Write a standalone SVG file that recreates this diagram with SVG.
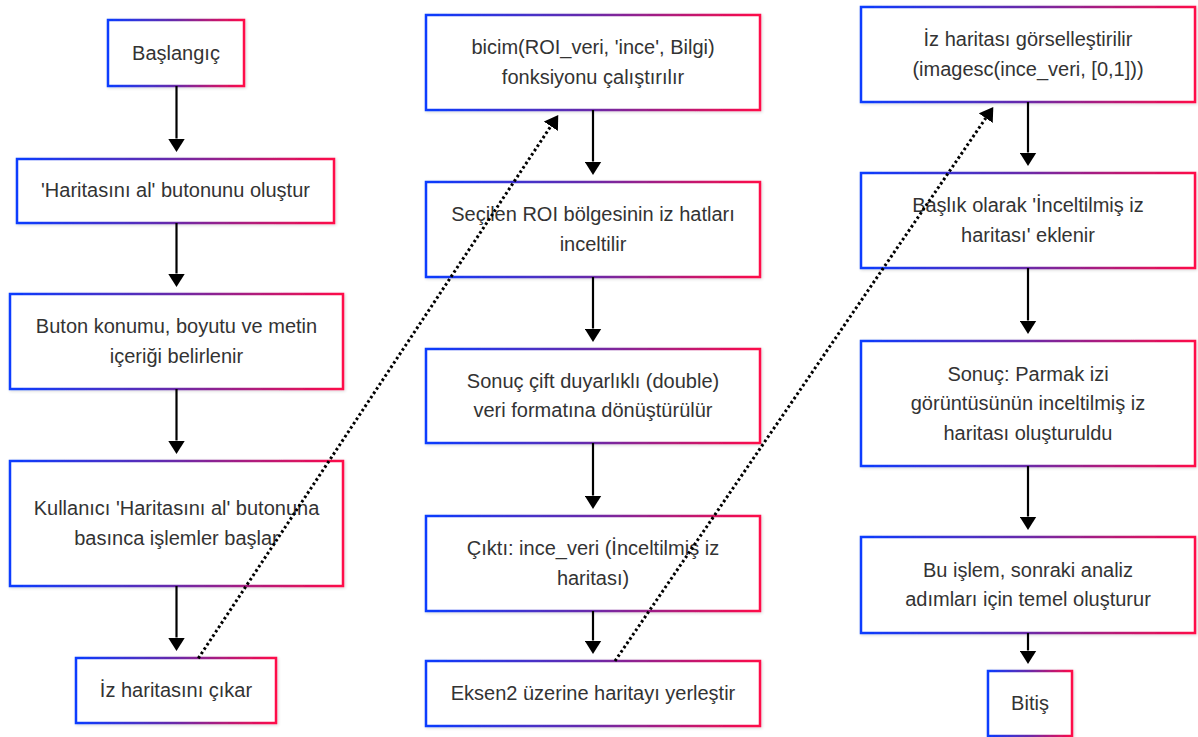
<svg xmlns="http://www.w3.org/2000/svg" width="1198" height="737" viewBox="0 0 1198 737">
  <style>
    .box { fill: #ffffff; stroke: url(#edgeGrad); stroke-width: 2.5; filter: url(#soft); }
    .lbl { font-family: "Liberation Sans", Arial, Helvetica, sans-serif; font-size: 20px; fill: #333333; text-anchor: middle; }
    .flow { stroke: #000000; stroke-width: 2.2; fill: none; marker-end: url(#head); }
    .link { stroke: #000000; stroke-width: 3; stroke-dasharray: 2.6 2.6; fill: none; marker-end: url(#head); }
  </style>
  <defs>
    <linearGradient id="edgeGrad" x1="0" y1="0" x2="1" y2="0">
      <stop offset="0" stop-color="#0a3cff"/>
      <stop offset="0.5" stop-color="#6a2aa8"/>
      <stop offset="1" stop-color="#ff0a48"/>
    </linearGradient>
    <filter id="soft" x="-10%" y="-20%" width="120%" height="140%">
      <feDropShadow dx="1" dy="1" stdDeviation="1.8" flood-color="#000000" flood-opacity="0.16"/>
    </filter>
    <marker id="head" markerUnits="userSpaceOnUse" markerWidth="13.5" markerHeight="17" viewBox="0 0 13.5 17" refX="0" refY="8.5" orient="auto">
      <path d="M0,0 L13.5,8.5 L0,17 Z" fill="#000000"/>
    </marker>
  </defs>

  <rect width="1198" height="737" fill="#ffffff"/>

  <!-- left column -->
  <g id="start">
    <rect class="box" x="108" y="20" width="136" height="66"/>
    <text class="lbl" x="176" y="59.5">Başlangıç</text>
  </g>
  <g id="create-button">
    <rect class="box" x="17" y="159" width="317" height="64"/>
    <text class="lbl" x="175.5" y="197">'Haritasını al' butonunu oluştur</text>
  </g>
  <g id="button-props">
    <rect class="box" x="10" y="294" width="333" height="95"/>
    <text class="lbl" x="176.5" y="333.25">Buton konumu, boyutu ve metin</text>
    <text class="lbl" x="176.5" y="362.75">içeriği belirlenir</text>
  </g>
  <g id="user-click">
    <rect class="box" x="10" y="461" width="333" height="125"/>
    <text class="lbl" x="176.5" y="515.25">Kullanıcı 'Haritasını al' butonuna</text>
    <text class="lbl" x="176.5" y="544.75">basınca işlemler başlar</text>
  </g>
  <g id="extract-map">
    <rect class="box" x="76" y="658" width="200" height="65"/>
    <text class="lbl" x="176" y="697">İz haritasını çıkar</text>
  </g>

  <!-- middle column -->
  <g id="call-bicim">
    <rect class="box" x="426" y="15" width="334" height="95"/>
    <text class="lbl" x="593" y="54.25">bicim(ROI_veri, 'ince', Bilgi)</text>
    <text class="lbl" x="593" y="83.75">fonksiyonu çalıştırılır</text>
  </g>
  <g id="thin-roi">
    <rect class="box" x="426" y="182" width="334" height="95"/>
    <text class="lbl" x="593" y="221.25">Seçilen ROI bölgesinin iz hatları</text>
    <text class="lbl" x="593" y="250.75">inceltilir</text>
  </g>
  <g id="to-double">
    <rect class="box" x="426" y="349" width="334" height="94"/>
    <text class="lbl" x="593" y="387.75">Sonuç çift duyarlıklı (double)</text>
    <text class="lbl" x="593" y="417.25">veri formatına dönüştürülür</text>
  </g>
  <g id="output">
    <rect class="box" x="426" y="516" width="334" height="95"/>
    <text class="lbl" x="593" y="555.25">Çıktı: ince_veri (İnceltilmiş iz</text>
    <text class="lbl" x="593" y="584.75">haritası)</text>
  </g>
  <g id="place-axis">
    <rect class="box" x="426" y="661" width="334" height="65"/>
    <text class="lbl" x="593" y="700">Eksen2 üzerine haritayı yerleştir</text>
  </g>

  <!-- right column -->
  <g id="show-map">
    <rect class="box" x="861" y="7" width="334" height="95"/>
    <text class="lbl" x="1028" y="46.25">İz haritası görselleştirilir</text>
    <text class="lbl" x="1028" y="75.75">(imagesc(ince_veri, [0,1]))</text>
  </g>
  <g id="add-title">
    <rect class="box" x="861" y="173" width="334" height="95"/>
    <text class="lbl" x="1028" y="212.25">Başlık olarak 'İnceltilmiş iz</text>
    <text class="lbl" x="1028" y="241.75">haritası' eklenir</text>
  </g>
  <g id="result">
    <rect class="box" x="861" y="341" width="334" height="125"/>
    <text class="lbl" x="1028" y="380.5">Sonuç: Parmak izi</text>
    <text class="lbl" x="1028" y="410">görüntüsünün inceltilmiş iz</text>
    <text class="lbl" x="1028" y="439.5">haritası oluşturuldu</text>
  </g>
  <g id="basis">
    <rect class="box" x="861" y="537" width="334" height="96"/>
    <text class="lbl" x="1028" y="576.75">Bu işlem, sonraki analiz</text>
    <text class="lbl" x="1028" y="606.25">adımları için temel oluşturur</text>
  </g>
  <g id="end">
    <rect class="box" x="988" y="671" width="84" height="65"/>
    <text class="lbl" x="1030" y="710">Bitiş</text>
  </g>

  <!-- connectors -->
  <g id="edges">
    <path class="flow" d="M176.5,86 L176.5,138.5"/>
    <path class="flow" d="M176.5,223 L176.5,273.5"/>
    <path class="flow" d="M176.5,389 L176.5,440.5"/>
    <path class="flow" d="M176.5,586 L176.5,637.5"/>

    <path class="flow" d="M593,110 L593,161.5"/>
    <path class="flow" d="M593,277 L593,328.5"/>
    <path class="flow" d="M593,443 L593,495.5"/>
    <path class="flow" d="M593,611 L593,640.5"/>

    <path class="flow" d="M1028,102 L1028,152.5"/>
    <path class="flow" d="M1028,268 L1028,320.5"/>
    <path class="flow" d="M1028,466 L1028,516.5"/>
    <path class="flow" d="M1028,633 L1028,650.5"/>

    <path class="link" d="M198.3,658.3 L550.8,126.2"/>
    <path class="link" d="M615,661 L985.7,118.2"/>
  </g>
</svg>
